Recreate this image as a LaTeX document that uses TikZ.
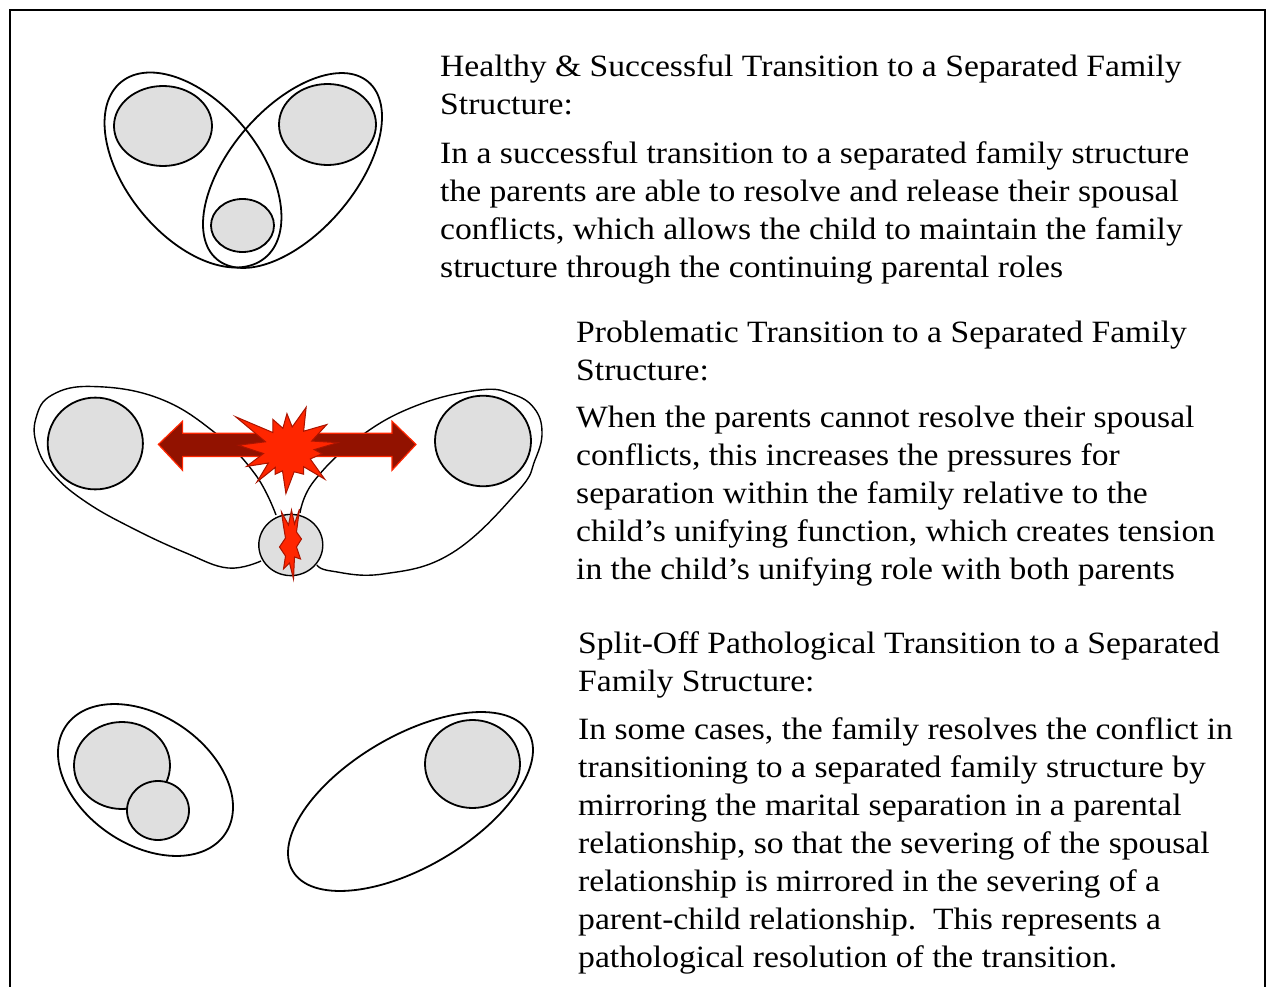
\documentclass[tikz,border=0pt]{standalone}
\usepackage{fontspec}
\setmainfont{Liberation Serif}[FakeStretch=1.085]
\usetikzlibrary{positioning}

\definecolor{shade}{RGB}{223,223,223}
\definecolor{burst}{RGB}{255,38,0}
\definecolor{darkred}{RGB}{146,18,0}
\definecolor{burstline}{RGB}{170,20,0}

\tikzset{
  bond/.style={draw, line width=1.8pt},
  loosebond/.style={draw, line width=1.4pt},
  member/.style={draw, line width=1.8pt, fill=shade},
  blast/.style={draw=burstline, line width=1pt, fill=burst, line join=miter},
  heading/.style={anchor=north west, inner sep=0pt, align=left, font=\fontsize{31}{38}\selectfont},
  para/.style={heading}
}

\begin{document}
\begin{tikzpicture}[x=1pt, y=-1pt]
\useasboundingbox (0,0) rectangle (1267,987);
\draw[line width=1.5pt] (10,1000) -- (10,10) -- (1265,10) -- (1265,1000);

% healthy transition
\draw[bond, rotate around={-50.7:(193,170)}] (193,170) ellipse [x radius=113.6, y radius=66.5];
\draw[bond, rotate around={49.4:(292.5,170.5)}] (292.5,170.5) ellipse [x radius=116.6, y radius=62.5];
\draw[member] (163,126) ellipse [x radius=49, y radius=40];
\draw[member] (327.5,124.5) ellipse [x radius=48.5, y radius=40.5];
\draw[member] (242.5,225.5) ellipse [x radius=31.5, y radius=26.5];

% problematic transition
\draw[loosebond] plot[smooth, tension=0.7] coordinates {(276,515) (255,474) (214,432) (158,398) (93,386.5) (52,395) (36,418) (37,446) (53,474) (86,502) (134,529) (186,553) (228,568) (261,561)};
\draw[loosebond] plot[smooth, tension=0.7] coordinates {(300,513) (314,481) (361,436) (418,405) (480,390) (512,394) (534,408) (542,432) (535,460) (518,491) (452,553) (383,574) (331,571) (317,565)};
\draw[member] (95.3,443.5) ellipse [x radius=47.6, y radius=45.9];
\draw[member] (483,441) ellipse [x radius=48, y radius=45.3];
\draw[member, line width=1.4pt] (290.8,545) ellipse [x radius=32, y radius=30.6];

\draw[draw=burst, line width=1.2pt, fill=darkred, line join=miter]
  (158.4,444.4) -- (182.6,421.2) -- (182.6,433.3) -- (392,433.3) -- (392,421.2) -- (416,444.4)
  -- (392,470.3) -- (392,456.5) -- (182.6,456.5) -- (182.6,470.3) -- cycle;

\begin{scope}[shift={(288.2,449.6)}]
\draw[blast] (-175:50) -- (-161:24) -- (-148:62) -- (-132:23) -- (-117:34) -- (-104:22)
  -- (-92:36) -- (-80:23) -- (-67:46) -- (-50:24) -- (-33:46) -- (-20:25) -- (-8:50)
  -- (0:26) -- (7:34) -- (23:24) -- (39:47) -- (48:23) -- (58:29) -- (75:23) -- (93:44)
  -- (105:22) -- (118:28) -- (126:22) -- (134:45) -- (146:24) -- (158:45) -- (171:25) -- cycle;
\end{scope}

\begin{scope}[shift={(290.5,545)}]
\draw[blast] (-9,-33) -- (-2,-20) -- (1,-35) -- (4,-21) -- (9,-36) -- (6,-13) -- (11,-6)
  -- (6,2) -- (10,14) -- (4,12) -- (3,34) -- (-1,18) -- (-7,24) -- (-5,11) -- (-11,2)
  -- (-5,-7) -- (-7,-19) -- cycle;
\end{scope}

% split-off transition
\draw[bond, rotate around={-34.1:(145.5,780)}] (145.5,780) ellipse [x radius=96.2, y radius=64.6];
\draw[member] (122,765.5) ellipse [x radius=48, y radius=43.5];
\draw[member] (158,810.5) ellipse [x radius=31, y radius=29.5];
\draw[bond, rotate around={30.5:(410.5,801.5)}] (410.5,801.5) ellipse [x radius=136.8, y radius=65.5];
\draw[member] (472.5,764) ellipse [x radius=47.5, y radius=44];

% texts
\node[heading] (hd1) at (440,54.5) {Healthy \& Successful Transition to a Separated Family\\Structure:};
\node[para, below=26pt of hd1.south west, anchor=north west] (txt1) {In a successful transition to a separated family structure\\the parents are able to resolve and release their spousal\\conflicts, which allows the child to maintain the family\\structure through the continuing parental roles};

\node[heading] (hd2) at (576,320.5) {Problematic Transition to a Separated Family\\Structure:};
\node[para, below=25pt of hd2.south west, anchor=north west] (txt2) {When the parents cannot resolve their spousal\\conflicts, this increases the pressures for\\separation within the family relative to the\\child’s unifying function, which creates tension\\in the child’s unifying role with both parents};

\node[heading] (hd3) at (578,631.5) {Split-Off Pathological Transition to a Separated\\Family Structure:};
\node[para, below=19pt of hd3.south west, anchor=north west] (txt3) {In some cases, the family resolves the conflict in\\transitioning to a separated family structure by\\mirroring the marital separation in a parental\\relationship, so that the severing of the spousal\\relationship is mirrored in the severing of a\\parent-child relationship.\ \ This represents a\\pathological resolution of the transition.};
\end{tikzpicture}
\end{document}
